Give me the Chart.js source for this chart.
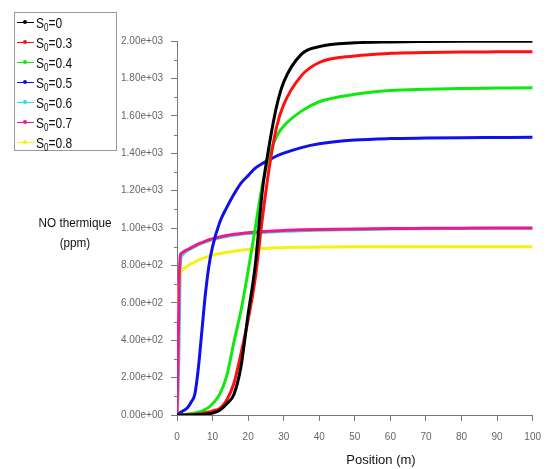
<!DOCTYPE html>
<html>
<head>
<meta charset="utf-8">
<script src="https://cdn.jsdelivr.net/npm/chart.js@4.4.1/dist/chart.umd.min.js"></script>
<style>
  body { margin: 0; background: #fff; }
  #wrap { position: relative; width: 551px; height: 469px; }
  #legend { position: absolute; left: 14px; top: 12px; width: 103px; height: 139px;
            border: 1px solid #999; box-sizing: border-box;
            font-family: 'Liberation Sans', Arial, sans-serif; font-size: 15px; }
  .row { position: relative; height: 20px; line-height: 20px; color: #111; }
  .row .tx { position: absolute; left: 21px; top: 0; transform: scaleX(0.8); transform-origin: 0 50%; white-space: nowrap; }
  .row sub { font-size: 10px; vertical-align: -3px; line-height: 0; }
  .ln { position: absolute; left: 2px; top: 9px; width: 17px; height: 1px; }
  .dt { position: absolute; left: 8px; top: 7px; width: 4px; height: 4px; border-radius: 2px; }
  .ytitle { position: absolute; left: 25px; top: 213px; width: 100px; text-align: center;
            font-family: 'Liberation Sans', Arial, sans-serif; font-size: 13px; line-height: 20px; color: #111;
            transform: scaleX(0.9); transform-origin: 50% 50%; }
  .xtitle { position: absolute; left: 331px; top: 452px; width: 100px; text-align: center;
            font-family: 'Liberation Sans', Arial, sans-serif; font-size: 13px; color: #111; }
</style>
</head>
<body>
<div id="wrap">
  <canvas id="c" width="551" height="469"></canvas>
  <div id="legend"></div>
  <div class="ytitle">NO thermique<br>(ppm)</div>
  <div class="xtitle">Position (m)</div>
</div>
<script>
// position along the burner (m), shared by all series
var positions = [0, 0.3, 0.6, 1, 1.5, 2, 3, 4, 5, 6, 7, 8, 9, 10, 12, 14, 16, 18, 20, 22, 24, 26, 28, 30, 35, 40, 50, 60, 70, 80, 90, 100];

var swirl = ['0', '0.3', '0.4', '0.5', '0.6', '0.7', '0.8'];
var colors = ['#000000', '#ff1010', '#10e810', '#1010e8', '#30e0e0', '#f01890', '#f8f010'];

// NO thermique (ppm)
var no_s00 = [0, 0, 0, 0, 0, 0, 0, 0, 1, 2, 3, 5, 7, 10, 25, 60, 110, 260, 540, 800, 1200, 1450, 1650, 1780, 1930, 1970, 1990, 1995, 1997, 1998, 1998, 1998];
var no_s03 = [0, 0, 0, 0, 0, 0, 1, 2, 3, 5, 8, 12, 16, 22, 35, 80, 170, 330, 510, 730, 1050, 1330, 1540, 1660, 1815, 1885, 1920, 1934, 1938, 1941, 1942, 1943];
var no_s04 = [0, 0, 0, 1, 2, 3, 5, 8, 11, 15, 21, 30, 42, 60, 110, 210, 390, 560, 770, 1000, 1230, 1390, 1490, 1545, 1625, 1675, 1715, 1735, 1742, 1746, 1748, 1750];
var no_s05 = [0, 3, 8, 15, 20, 25, 40, 70, 110, 250, 450, 650, 800, 900, 1030, 1110, 1180, 1240, 1280, 1320, 1345, 1365, 1385, 1400, 1430, 1450, 1470, 1478, 1481, 1483, 1484, 1485];
var no_s06 = [0, 100, 400, 820, 855, 866, 880, 890, 900, 910, 918, 925, 932, 938, 947, 955, 961, 966, 970, 973, 976, 978, 980, 982, 985, 988, 991, 994, 996, 997, 998, 998];
var no_s07 = [0, 300, 700, 860, 868, 875, 885, 895, 905, 915, 922, 930, 937, 943, 952, 960, 966, 971, 975, 978, 981, 983, 985, 987, 990, 992, 995, 997, 998, 999, 1000, 1000];
var no_s08 = [0, 500, 700, 760, 775, 785, 798, 808, 818, 828, 836, 843, 849, 855, 864, 870, 876, 881, 885, 888, 890, 892, 894, 895, 897, 898, 900, 900, 900, 900, 900, 900];

var series = [no_s00, no_s03, no_s04, no_s05, no_s06, no_s07, no_s08];

var yTicks = [0, 200, 400, 600, 800, 1000, 1200, 1400, 1600, 1800, 2000];
var xTicks = [0, 10, 20, 30, 40, 50, 60, 70, 80, 90, 100];

function sci(v) {
  var s = v.toExponential(2);
  return s.replace(/e([+-])(\d)$/, 'e$10$2');
}

var datasets = series.map(function (vals, i) {
  return {
    label: 'S0=' + swirl[i],
    data: vals.map(function (v, k) { return { x: positions[k], y: v }; }),
    borderColor: colors[i],
    backgroundColor: colors[i],
    borderWidth: 3,
    pointRadius: 0,
    cubicInterpolationMode: 'monotone',
    fill: false,
    order: i == 4 ? 1 : 0   // cyan sits under the magenta curve
  };
});

// legend as html
var lg = document.getElementById('legend');
swirl.forEach(function (s, i) {
  var r = document.createElement('div');
  r.className = 'row';
  r.innerHTML = '<span class="ln" style="background:' + colors[i] + '"></span>' +
                '<span class="dt" style="background:' + colors[i] + '"></span>' +
                '<span class="tx">S<sub>0</sub>=' + s + '</span>';
  lg.appendChild(r);
});

// small minor ticks on the y axis
var minorTicks = {
  id: 'minorTicks',
  afterDraw: function (chart) {
    var y = chart.scales.y, ctx = chart.ctx, left = y.right;
    ctx.save();
    ctx.strokeStyle = '#777';
    ctx.lineWidth = 1;
    for (var v = 100; v < 2000; v += 200) {
      var py = Math.round(y.getPixelForValue(v)) + 0.5;
      ctx.beginPath();
      ctx.moveTo(left - 3, py);
      ctx.lineTo(left, py);
      ctx.stroke();
    }
    ctx.restore();
  }
};

var tickFont = { family: "'Liberation Sans', Arial, sans-serif", size: 10 };

new Chart(document.getElementById('c'), {
  type: 'line',
  data: { datasets: datasets },
  options: {
    responsive: false,
    animation: false,
    layout: { padding: { left: 100, top: 41, right: 13, bottom: 0 } },
    plugins: { legend: { display: false }, tooltip: { enabled: false } },
    scales: {
      x: {
        type: 'linear', min: 0, max: 100,
        afterBuildTicks: function (s) { s.ticks = xTicks.map(function (v) { return { value: v }; }); },
        afterFit: function (s) { s.height = 54; },
        ticks: { color: '#666', font: tickFont, padding: 10, maxRotation: 0 },
        grid: { drawOnChartArea: false, tickLength: 6, tickColor: '#777' },
        border: { color: '#777', width: 1 }
      },
      y: {
        min: 0, max: 2000,
        afterBuildTicks: function (s) { s.ticks = yTicks.map(function (v) { return { value: v }; }); },
        afterFit: function (s) { s.width = 77; },
        ticks: { color: '#666', font: tickFont, padding: 8, callback: function (v) { return sci(v); } },
        grid: { drawOnChartArea: false, tickLength: 6, tickColor: '#777' },
        border: { color: '#777', width: 1 }
      }
    }
  },
  plugins: [minorTicks]
});
</script>
</body>
</html>
